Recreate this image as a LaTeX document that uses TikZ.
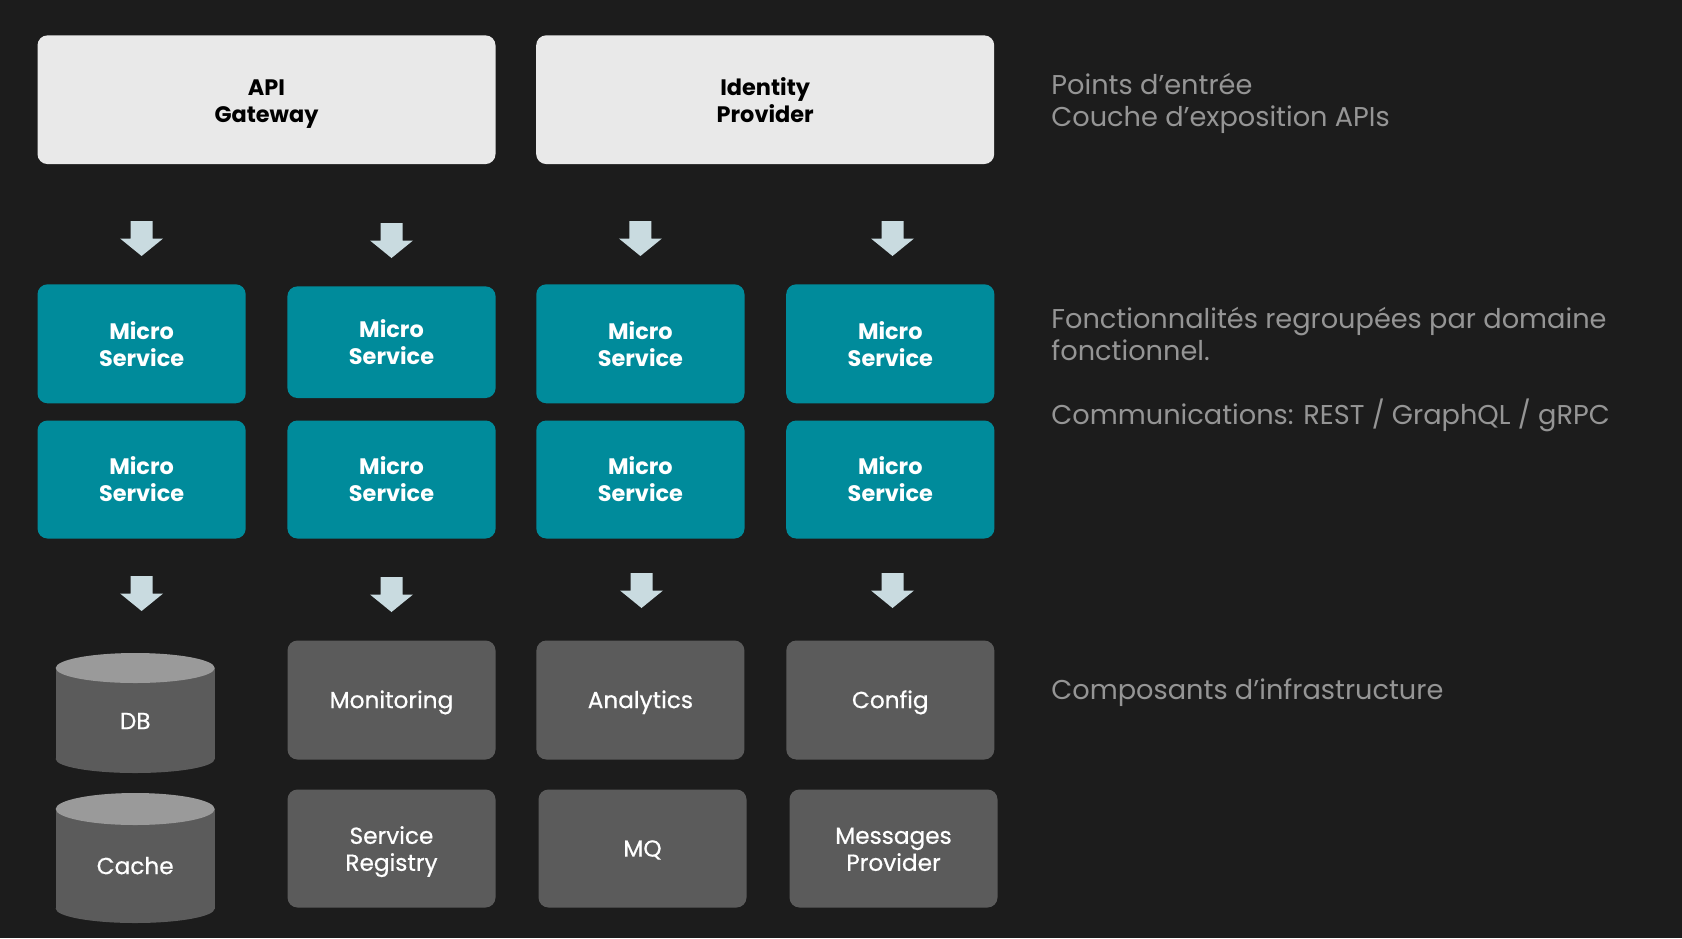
\documentclass[tikz,border=0pt]{standalone}
\usepackage{fontspec}
\setmainfont{Poppins}
\newfontfamily\medfont{Poppins}[FakeBold=0.6]
\definecolor{bg}{HTML}{1C1C1C}
\definecolor{topfill}{HTML}{E9E9E9}
\definecolor{tealbox}{HTML}{008B9B}
\definecolor{gbox}{HTML}{5B5B5B}
\definecolor{cyltop}{HTML}{9A9A9A}
\definecolor{arrowc}{HTML}{C9DBE0}
\definecolor{notegray}{HTML}{959595}
\newcommand\twol[2]{\vphantom{Mi}#1\\\smash{#2}}
\tikzset{
  box/.style={rounded corners=5pt, inner sep=0pt, align=center, anchor=center},
  topbox/.style={box, fill=topfill, minimum width=229pt, minimum height=64.35pt, text=black,
    font=\fontsize{11.2}{13.5}\selectfont\bfseries},
  msbox/.style={box, fill=tealbox, minimum width=104.1pt, minimum height=59.5pt, text=white,
    font=\fontsize{11.2}{13.5}\selectfont\bfseries},
  infbox/.style={box, fill=gbox, minimum width=104pt, minimum height=59.5pt, text=white,
    font=\fontsize{11.6}{13.5}\selectfont\medfont},
  oneline/.style={text height=8.1pt, text depth=0pt},
  cyltext/.style={inner sep=0pt, text=white, oneline, font=\fontsize{11.6}{13.5}\selectfont\medfont},
  note/.style={anchor=base west, inner sep=0pt, text=notegray, font=\fontsize{13.6}{16}\selectfont},
  blockarrow/.pic={\fill[arrowc] (-11,0) -- (11,0) -- (11,17.5) -- (21.5,17.5) -- (0,35) -- (-21.5,17.5) -- (-11,17.5) -- cycle;}
}
\begin{document}
\begin{tikzpicture}[x=0.5pt,y=-0.5pt]
\fill[bg] (0,0) rectangle (1682,938);
\useasboundingbox (0,0) rectangle (1682,938);

% entry layer
\node[topbox] (api) at (266.5,99.7) {\twol{API}{Gateway}};
\node[topbox] (idp) at (765.2,99.7) {\twol{Identity}{Provider}};

% arrows row 1
\pic at (141.6,221) {blockarrow};
\pic at (391.5,223) {blockarrow};
\pic at (640.4,221) {blockarrow};
\pic at (892.5,221) {blockarrow};

% micro services
\node[msbox] (ms11) at (141.6,343.8) {\twol{Micro}{Service}};
\node[msbox, minimum height=55.8pt] (ms12) at (391.5,342.2) {\twol{Micro}{Service}};
\node[msbox] (ms13) at (640.4,343.8) {\twol{Micro}{Service}};
\node[msbox] (ms14) at (890.3,343.8) {\twol{Micro}{Service}};
\node[msbox, minimum height=59pt] (ms21) at (141.6,479.5) {\twol{Micro}{Service}};
\node[msbox, minimum height=59pt] (ms22) at (391.5,479.5) {\twol{Micro}{Service}};
\node[msbox, minimum height=59pt] (ms23) at (640.4,479.5) {\twol{Micro}{Service}};
\node[msbox, minimum height=59pt] (ms24) at (890.3,479.5) {\twol{Micro}{Service}};

% arrows row 2
\pic at (141.6,576) {blockarrow};
\pic at (391.5,577) {blockarrow};
\pic at (641.5,573) {blockarrow};
\pic at (892.5,573) {blockarrow};

% cylinders
\fill[gbox] (135.2,759) ellipse [x radius=39.75pt, y radius=7pt];
\fill[gbox] (55.7,668) rectangle (214.7,759);
\fill[cyltop] (135.2,668) ellipse [x radius=39.75pt, y radius=7.5pt];
\node[cyltext] (db) at (135.2,721) {DB};

\fill[gbox] (135.2,908.5) ellipse [x radius=39.75pt, y radius=7.25pt];
\fill[gbox] (55.7,809) rectangle (214.7,908.5);
\fill[cyltop] (135.2,809) ellipse [x radius=39.75pt, y radius=8pt];
\node[cyltext] (cache) at (135.2,866) {Cache};

% infrastructure boxes
\node[infbox, oneline] (mon) at (391.5,700) {Monitoring};
\node[infbox, oneline] (ana) at (640.4,700) {Analytics};
\node[infbox, oneline] (cfg) at (890.3,700) {Config};
\node[infbox, minimum height=59pt] (reg) at (391.5,848.5) {\twol{Service}{Registry}};
\node[infbox, oneline, minimum height=59pt] (mq) at (642.5,848.5) {MQ};
\node[infbox, minimum height=59pt] (msgp) at (893.5,848.5) {\twol{Messages}{Provider}};

% notes
\node[note] (n1) at (1051,94) {Points d’entrée};
\node[note] (n2) at (1051,126) {Couche d’exposition APIs};
\node[note] (n3) at (1051,328) {Fonctionnalités regroupées par domaine};
\node[note] (n4) at (1051,360) {fonctionnel.};
\node[note] (n5) at (1051,424) {Communications: REST / GraphQL / gRPC};
\node[note] (n6) at (1051,699) {Composants d’infrastructure};
\end{tikzpicture}
\end{document}
